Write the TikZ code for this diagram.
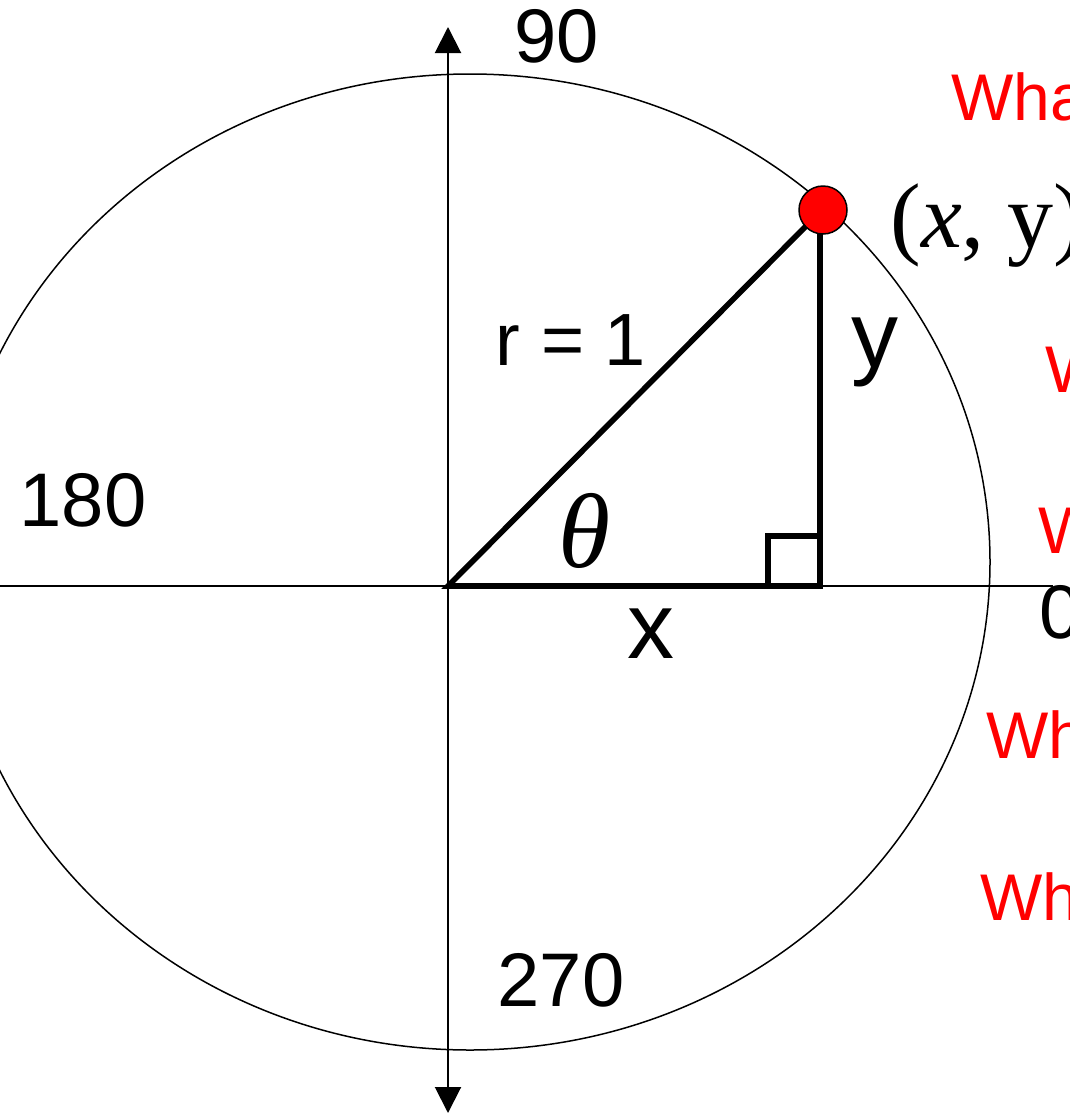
\documentclass[tikz,border=0pt]{standalone}
\usepackage{fontspec}
\setmainfont{Liberation Sans}
\newfontfamily\timesf{Liberation Serif}
\usepackage{xcolor}
\usepackage{tikz}
\usetikzlibrary{positioning, arrows.meta, calc}
\definecolor{quiz}{RGB}{255,0,0}
\definecolor{pointc}{RGB}{255,0,0}

\begin{document}
\begin{tikzpicture}[x=0.5pt, y=-0.5pt,
  ax/.style={line width=1pt, {Triangle[width=13pt,length=13pt]}-{Triangle[width=13pt,length=13pt]}},
  leg/.style={line width=2.8pt, line cap=round},
  deg/.style={inner sep=0pt, font=\fontsize{38}{40}\selectfont},
  lab/.style={inner sep=0pt, font=\fontsize{47}{50}\selectfont},
  ask/.style={inner sep=0pt, anchor=base west, text=quiz, font=\fontsize{33}{36}\selectfont}]
\useasboundingbox (0,0) rectangle (1070,1114);
\clip (0,0) rectangle (1070,1114);
% axes and unit circle
\coordinate (O) at (448,586);
\coordinate (top) at (448,27);
\coordinate (bot) at (448,1113);
\coordinate (west) at (0,586);
\coordinate (east) at (1053,586);
\draw[line width=0.75pt] (470,562) ellipse [x radius=260pt, y radius=244pt];
\draw[line width=1pt] (west) -- (east);
\draw[ax] (bot) -- (top);
% right triangle
\coordinate (P) at (820,212);
\coordinate (F) at (820,586);
\draw[leg] (O) -- (P) -- (F) -- cycle;
\draw[line width=3pt] (F) rectangle ++(-52,-50);
\node[circle, draw, line width=0.75pt, fill=pointc, minimum size=24pt, inner sep=0pt] (dot) at (823,210) {};
% labels
\node[deg] (n90) at (557,36) {90};
\node[deg] (n180) at (83,500) {180};
\node[deg] (n270) at (561,980) {270};
\node[deg, anchor=west] (n0) at (1039,612) {0};
\node[inner sep=0pt, font=\fontsize{37}{40}\selectfont] (r) at (571,340) {r = 1};
\node[lab, anchor=base] (ly) at (875,367) {y};
\node[lab, anchor=base] (lx) at (651,658) {x};
\node[inner sep=0pt, font=\fontsize{53}{55}\selectfont\timesf\itshape] (th) at (585,531) {θ};
\node[inner sep=0pt, anchor=base west, font=\fontsize{46}{48}\selectfont\timesf] (xy) at (890,247) {(\textit{x}, y)};
\node[ask] (q1) at (951,120) {Wha};
\node[ask] (q2) at (1045,392) {W};
\node[ask] (q3) at (1038,553) {W};
\node[ask] (q4) at (986,758) {Wh};
\node[ask] (q5) at (980,920) {Wh};
\end{tikzpicture}
\end{document}
